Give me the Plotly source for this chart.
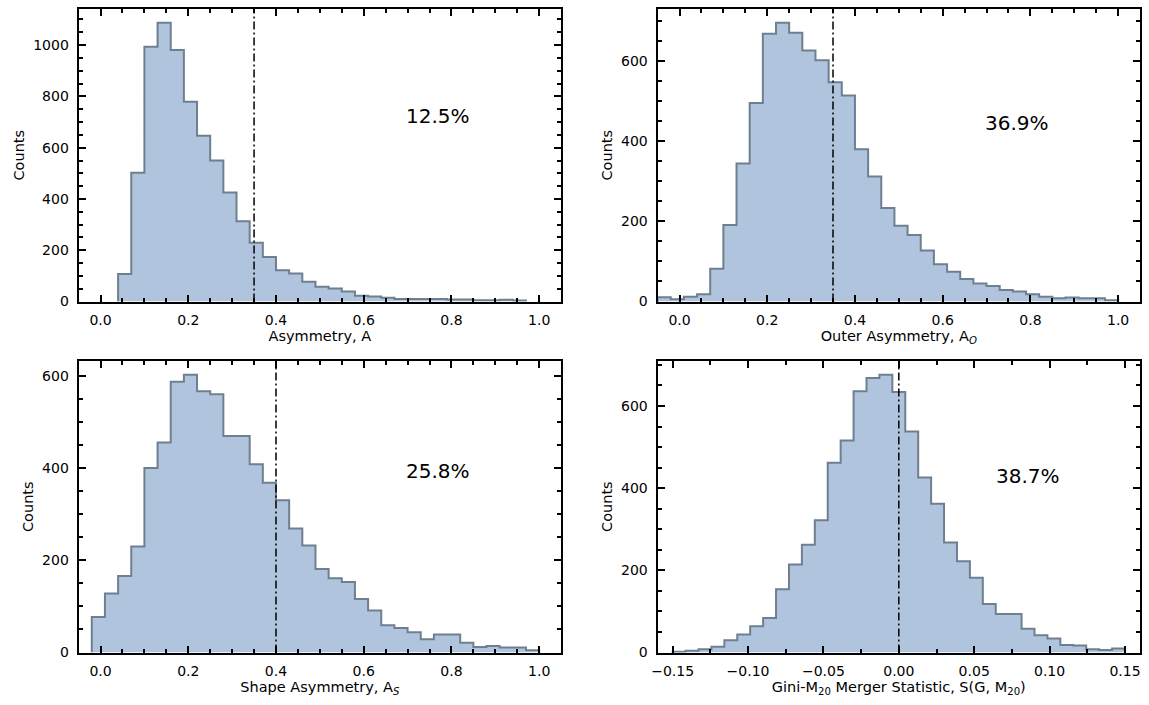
import numpy as np
import plotly.graph_objects as go

# ---- histogram data (bin start, bin width, counts per bin) ----
asym_start = 0.04
asym_width = 0.03
asym_counts = [107, 502, 994, 1087, 981, 779, 647, 550, 425, 313, 229, 174, 122,
               109, 77, 58, 51, 39, 23, 20, 15, 10, 10, 10, 10, 8, 8, 5, 5, 7, 4]

outer_start = -0.05
outer_width = 0.03
outer_counts = [11, 6, 12, 18, 82, 191, 344, 495, 668, 695, 670, 626, 602, 547,
                514, 380, 312, 233, 189, 166, 127, 93, 74, 56, 45, 39, 29, 25,
                18, 12, 8, 10, 8, 8, 3]

shape_start = -0.02
shape_width = 0.03
shape_counts = [77, 128, 166, 230, 400, 455, 587, 602, 566, 560, 469, 469, 408,
                368, 330, 269, 232, 181, 161, 153, 116, 91, 59, 53, 44, 29, 39,
                39, 21, 12, 14, 11, 11, 5]

gini_start = -0.15
gini_width = 0.30 / 35
gini_counts = [2, 4, 8, 14, 30, 44, 64, 84, 154, 214, 262, 322, 462, 516, 636,
               668, 676, 634, 538, 426, 362, 268, 222, 182, 118, 94, 94, 58, 42,
               34, 18, 17, 8, 6, 10]

# cut values and fraction labels
thresholds = [0.35, 0.35, 0.40, 0.0]
fractions = ["12.5%", "36.9%", "25.8%", "38.7%"]
label_pos = [(0.7, 700), (0.7, 430), (0.7, 380), (0.066, 415)]

x_titles = ["Asymmetry, A",
            "Outer Asymmetry, A<sub><i>O</i></sub>",
            "Shape Asymmetry, A<sub><i>S</i></sub>",
            "Gini-M<sub>20</sub> Merger Statistic, S(G, M<sub>20</sub>)"]

panels = [
    (asym_start, asym_width, asym_counts),
    (outer_start, outer_width, outer_counts),
    (shape_start, shape_width, shape_counts),
    (gini_start, gini_width, gini_counts),
]

W, H = 1149, 705
FONT = "DejaVu Sans"
FILL = "#B0C4DE"
EDGE = "#6E7F90"

# axes boxes in pixels: (left, right, top, bottom)
boxes = [(73, 558, 9, 305), (655, 1140, 9, 305),
         (73, 558, 365, 660), (655, 1140, 365, 660)]

x_ranges = [[-0.05, 1.05], [-0.05, 1.05], [-0.05, 1.05], [-0.16, 0.16]]
x_dticks = [0.2, 0.2, 0.2, 0.05]
x_minor = [0.05, 0.05, 0.05, 0.025]
x_fmt = [".1f", ".1f", ".1f", ".2f"]

fig = go.Figure()


def step_outline(start, width, counts):
    n = len(counts)
    edges = start + width * np.arange(n + 1)
    xs = [edges[0]] + list(edges[:-1]) + [edges[-1], edges[-1]]
    ys = [0] + list(counts) + [counts[-1], 0]
    return xs, ys


def base_axis():
    return dict(
        showline=True, linecolor="black", linewidth=2, mirror="allticks",
        ticks="inside", ticklen=7, tickwidth=2, tickcolor="black",
        showgrid=False, zeroline=False, ticklabelstandoff=5,
        tickfont=dict(family=FONT, size=14, color="black"),
        minor=dict(ticks="inside", ticklen=4, tickwidth=1.5,
                   tickcolor="black", showgrid=False),
    )


layout = dict(
    width=W, height=H, autosize=False,
    margin=dict(l=0, r=0, t=0, b=0),
    paper_bgcolor="white", plot_bgcolor="white",
    showlegend=False,
    font=dict(family=FONT, color="black"),
)

shapes = []
annotations = []

for i, (start, width, counts) in enumerate(panels):
    k = "" if i == 0 else str(i + 1)
    xs, ys = step_outline(start, width, counts)
    fig.add_trace(go.Scatter(
        x=xs, y=ys, mode="lines", line=dict(shape="hv", color=EDGE, width=2),
        fill="tozeroy", fillcolor=FILL, hoverinfo="skip",
        xaxis="x" + k, yaxis="y" + k,
    ))

    left, right, top, bottom = boxes[i]
    xa = base_axis()
    xa.update(
        domain=[left / W, right / W], anchor="y" + k,
        range=x_ranges[i], dtick=x_dticks[i], tick0=0, tickformat=x_fmt[i],
        title=dict(text=x_titles[i], font=dict(family=FONT, size=14.5),
                   standoff=3),
    )
    xa["minor"].update(dtick=x_minor[i], tick0=0)

    ya = base_axis()
    ya.update(
        domain=[1 - bottom / H, 1 - top / H], anchor="x" + k,
        range=[0, 1.05 * max(counts)], dtick=200, tick0=0,
        title=dict(text="Counts", font=dict(family=FONT, size=14.5),
                   standoff=5),
    )
    ya["minor"].update(dtick=50, tick0=0)

    layout["xaxis" + k] = xa
    layout["yaxis" + k] = ya

    shapes.append(dict(
        type="line", xref="x" + k, yref="y" + k + " domain",
        x0=thresholds[i], x1=thresholds[i], y0=0, y1=1,
        line=dict(color="black", width=1.5, dash="8px,3px,2px,3px"),
        layer="above",
    ))

    tx, ty = label_pos[i]
    annotations.append(dict(
        x=tx, y=ty, xref="x" + k, yref="y" + k, text=fractions[i],
        showarrow=False, xanchor="left", yanchor="bottom",
        xshift=-4, yshift=-8,
        font=dict(family=FONT, size=20, color="black"),
    ))

layout["shapes"] = shapes
layout["annotations"] = annotations
fig.update_layout(**layout)

fig.write_html("out.html")
